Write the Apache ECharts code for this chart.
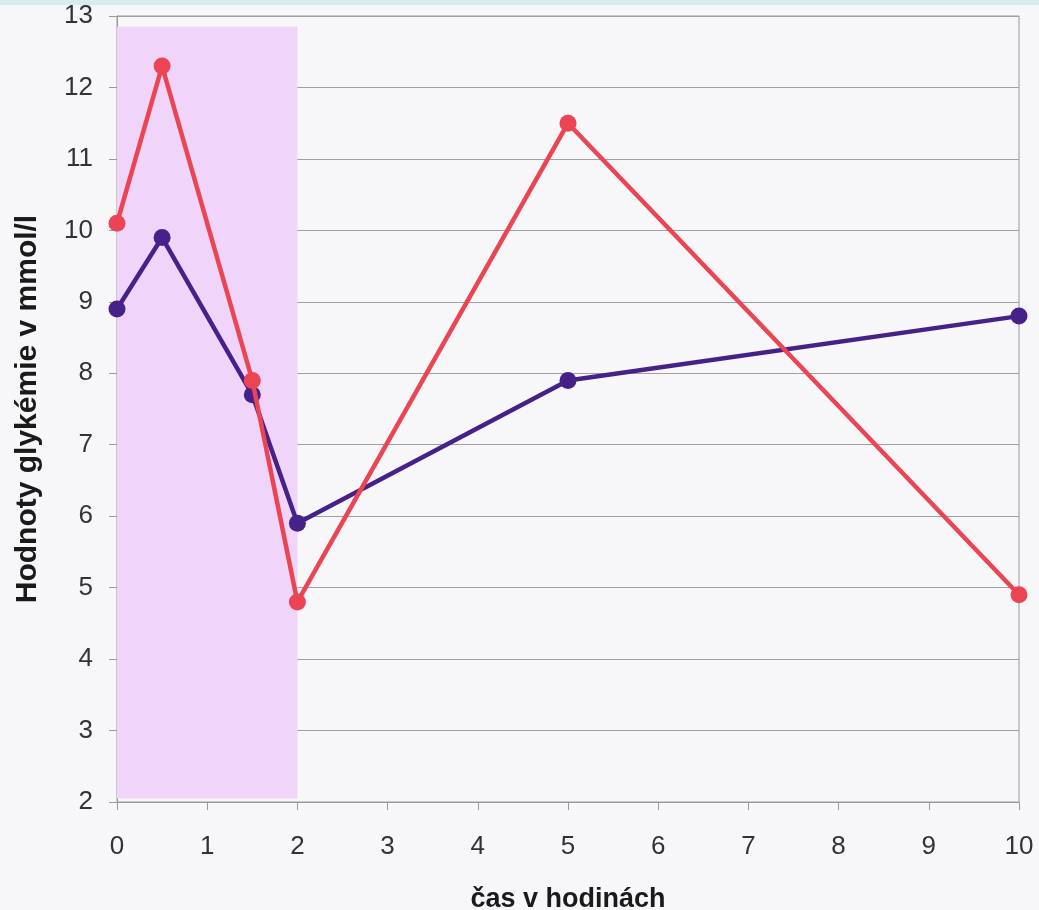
<!DOCTYPE html>
<html>
<head>
<meta charset="utf-8">
<script src="https://cdn.jsdelivr.net/npm/echarts@6/dist/echarts.min.js"></script>
<style>
  html, body { margin: 0; padding: 0; background: #f7f7fa; }
  #chart { width: 1039px; height: 910px; }
</style>
</head>
<body>
<div id="chart"></div>
<script>
// Measurement times (hours) and glycaemia readings (mmol/l)
const hours = [0, 0.5, 1.5, 2, 5, 10];
const redSeries = [10.1, 12.3, 7.9, 4.8, 11.5, 4.9];
const purpleSeries = [8.9, 9.9, 7.7, 5.9, 7.9, 8.8];

// Highlighted interval on the time axis and its vertical extent
const bandX = [0, 2];
const bandY = [2.05, 12.85];

const xTitle = 'čas v hodinách';
const yTitle = 'Hodnoty glykémie v mmol/l';

const font = '"Liberation Sans", Arial, sans-serif';

function pairs(xs, ys) { return xs.map((x, i) => [x, ys[i]]); }

const chart = echarts.init(document.getElementById('chart'), null, { renderer: 'canvas' });

chart.setOption({
  backgroundColor: '#f7f7fa',
  animation: false,
  graphic: [{
    type: 'rect', left: 0, top: 0, z: 10,
    shape: { width: 1039, height: 5 },
    style: { fill: '#d6ecef' }
  }],
  grid: {
    left: 117, right: 20, top: 16, bottom: 108,
    outerBoundsMode: 'none',
    containLabel: false,
    show: true, borderColor: '#9a9a9a', borderWidth: 1, backgroundColor: 'transparent'
  },
  xAxis: {
    type: 'value', min: 0, max: 10, interval: 1,
    name: xTitle, nameLocation: 'middle', nameGap: 84,
    nameTextStyle: { fontFamily: font, fontWeight: 'bold', fontSize: 27, color: '#1a1a1a' },
    axisLine: { show: true, lineStyle: { color: '#9a9a9a', width: 1 } },
    axisTick: { show: true, inside: false, length: 8, lineStyle: { color: '#9a9a9a' } },
    axisLabel: { fontFamily: font, fontSize: 26, color: '#333', margin: 32 },
    splitLine: { show: false }
  },
  yAxis: {
    type: 'value', min: 2, max: 13, interval: 1,
    name: yTitle, nameLocation: 'middle', nameGap: 74, nameRotate: 90,
    nameTextStyle: { fontFamily: font, fontWeight: 'bold', fontSize: 30, color: '#1a1a1a' },
    axisLine: { show: true, lineStyle: { color: '#9a9a9a', width: 1 } },
    axisTick: { show: true, inside: false, length: 8, lineStyle: { color: '#9a9a9a' } },
    axisLabel: { fontFamily: font, fontSize: 26, color: '#333', margin: 24 },
    splitLine: { show: true, lineStyle: { color: '#a0a0a0', width: 1 } }
  },
  series: [
    {
      type: 'line', name: 'band', data: [], silent: true,
      markArea: {
        silent: true,
        itemStyle: { color: '#f0d4fa' },
        data: [[{ coord: [bandX[0], bandY[0]] }, { coord: [bandX[1], bandY[1]] }]]
      },
      z: 1
    },
    {
      type: 'line', name: 'A', data: pairs(hours, purpleSeries),
      symbol: 'circle', symbolSize: 17,
      lineStyle: { color: '#46218a', width: 4.5 },
      itemStyle: { color: '#46218a' },
      z: 3
    },
    {
      type: 'line', name: 'B', data: pairs(hours, redSeries),
      symbol: 'circle', symbolSize: 17,
      lineStyle: { color: '#eb4452', width: 4.5 },
      itemStyle: { color: '#eb4452' },
      z: 4
    }
  ]
});
</script>
</body>
</html>
